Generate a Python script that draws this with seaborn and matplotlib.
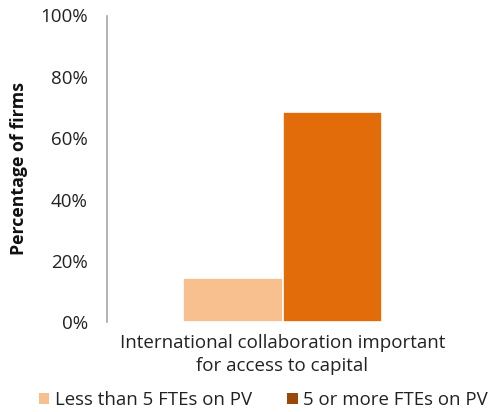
import matplotlib
matplotlib.use("Agg")
import matplotlib.pyplot as plt
from matplotlib.patches import Patch
import seaborn as sns
import pandas as pd

categories = ["International collaboration important\nfor access to capital"]
groups = ["Less than 5 FTEs on PV", "5 or more FTEs on PV"]
values = [14.4, 68.5]
bar_colors = ["#F9C08F", "#E36C0A"]
legend_colors = ["#F9C08F", "#984807"]
yticks = [0, 20, 40, 60, 80, 100]
ytick_labels = ["0%", "20%", "40%", "60%", "80%", "100%"]

df = pd.DataFrame({
    "category": [categories[0]] * len(groups),
    "group": groups,
    "value": values,
})

sns.set_theme(style="white")
plt.rcParams["font.family"] = ["Open Sans", "DejaVu Sans"]

fig = plt.figure(figsize=(4.88, 4.12), dpi=100)
ax = fig.add_axes([107 / 488, 89.7 / 412, 351 / 488, 306.8 / 412])

sns.barplot(data=df, x="category", y="value", hue="group",
            palette=bar_colors, hue_order=groups, ax=ax, saturation=1,
            width=0.8, edgecolor="white", linewidth=1.2, legend=False)

ax.set_xlim(-0.705, 0.705)
ax.set_ylim(0, 100)
ax.set_yticks(yticks)
ax.set_yticklabels(ytick_labels, fontsize=13.5, color="#222222")
ax.tick_params(axis="y", length=0, pad=13.7)
ax.tick_params(axis="x", length=0, pad=8.5, labelsize=13.5, labelcolor="#222222")
for lbl in ax.get_xticklabels():
    lbl.set_linespacing(1.38)
ax.set_xlabel("")
ax.set_ylabel("Percentage of firms", fontsize=12.8, fontweight="bold",
              color="#111111", labelpad=9)

for side in ["top", "right", "bottom"]:
    ax.spines[side].set_visible(False)
ax.spines["left"].set_color("#A6A6A6")
ax.spines["left"].set_linewidth(1.2)

handles = [Patch(facecolor=c, edgecolor="none", label=g)
           for g, c in zip(groups, legend_colors)]
fig.legend(handles=handles, loc="center", bbox_to_anchor=(263.5 / 488, 1 - 400 / 412),
           ncol=2, frameon=False, fontsize=13.4, handlelength=0.55, handleheight=0.55,
           handletextpad=0.3, columnspacing=1.9, labelcolor="#222222",
           borderpad=0, borderaxespad=0)

fig.savefig("out.png", dpi=100)
